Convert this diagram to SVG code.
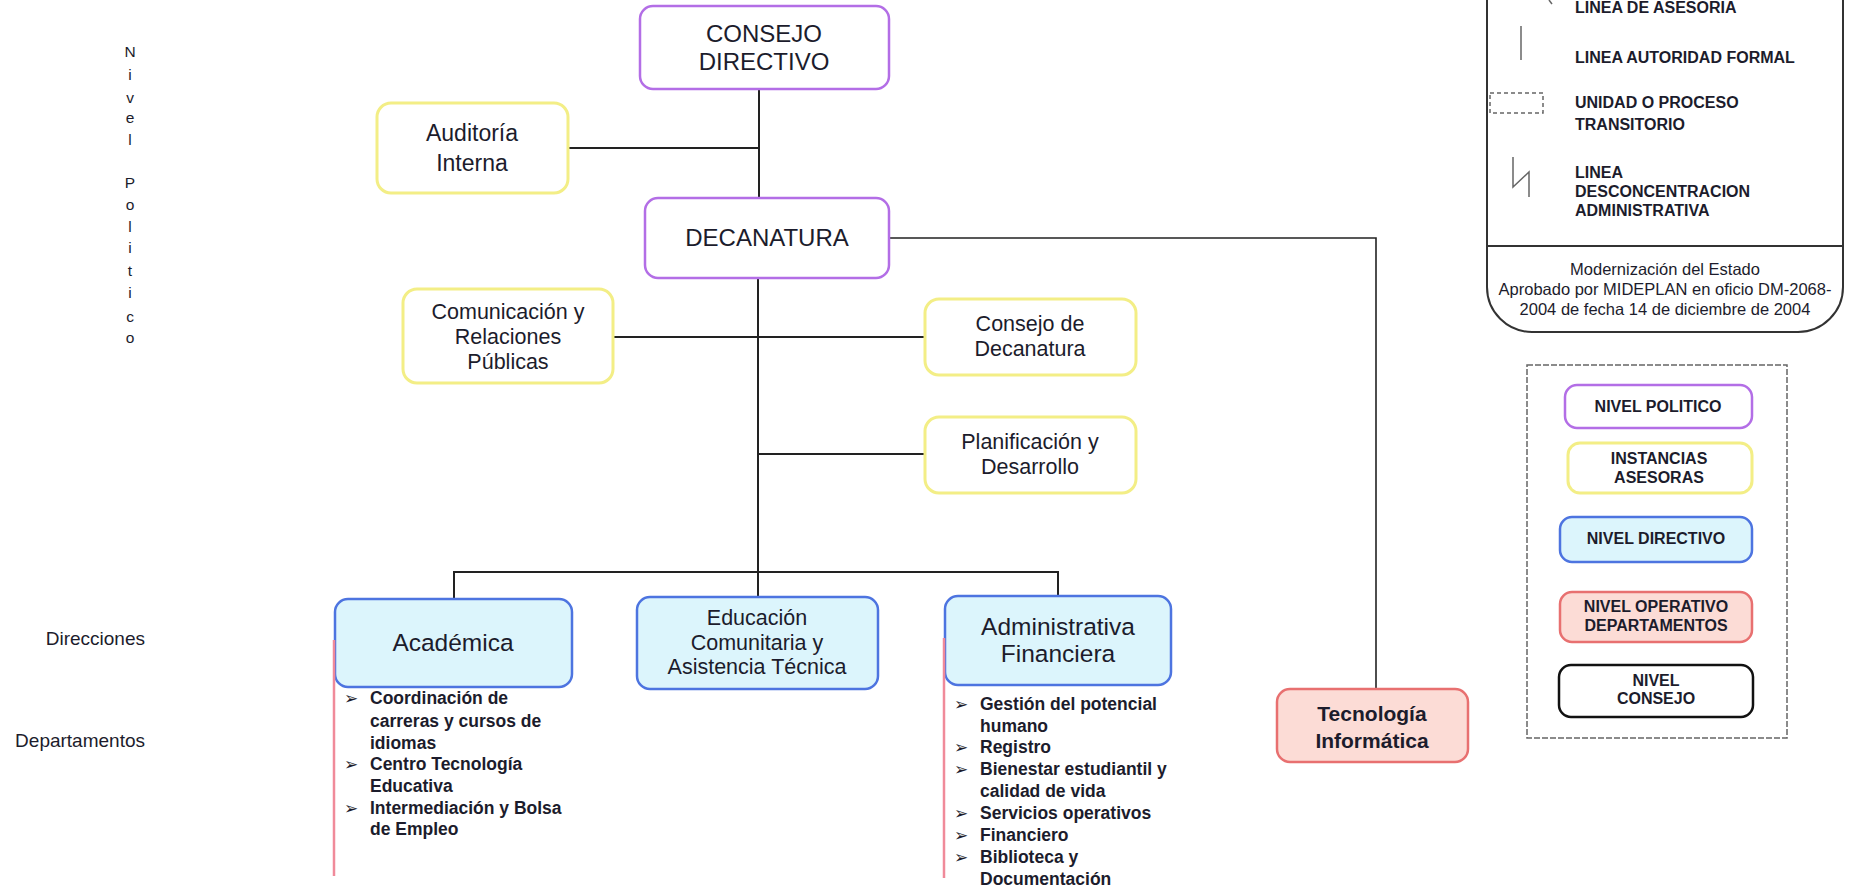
<svg xmlns="http://www.w3.org/2000/svg" width="1850" height="890" viewBox="0 0 1850 890">
<style>
text{font-family:"Liberation Sans",Arial,sans-serif;fill:#1c1c2c}
.c{text-anchor:middle}
.b{font-weight:bold}
.pol{fill:#fff;stroke:#b36ee6;stroke-width:2.5}
.ase{fill:#fff;stroke:#f3ee86;stroke-width:3}
.dir{fill:#dcf5fc;stroke:#4d74e0;stroke-width:2.5}
.ope{fill:#fcdcd6;stroke:#e87070;stroke-width:2.5}
.con{fill:#fff;stroke:#111;stroke-width:2.5}
.ln{stroke:#222;stroke-width:2;fill:none}
.red{stroke:#f08a9a;stroke-width:2.5;fill:none}
.f24{font-size:24px}.f23{font-size:23px}.f21{font-size:21.5px}
.li{font-size:17.5px;font-weight:bold}
.bu{font-family:"DejaVu Sans",sans-serif;font-size:17px}
.lg{font-size:16px;font-weight:bold}
.ft{font-size:16.5px}
.side{font-size:19px}
.vl{font-size:15.5px;text-anchor:middle}
.sym{stroke:#666;stroke-width:1.5;fill:none}
</style>

<g id="labels-left">
<text class="vl" x="130" y="57">N</text>
<text class="vl" x="130" y="80">i</text>
<text class="vl" x="130" y="103">v</text>
<text class="vl" x="130" y="123">e</text>
<text class="vl" x="130" y="145">l</text>
<text class="vl" x="130" y="188">P</text>
<text class="vl" x="130" y="210">o</text>
<text class="vl" x="130" y="232">l</text>
<text class="vl" x="130" y="253">i</text>
<text class="vl" x="130" y="276">t</text>
<text class="vl" x="130" y="298">i</text>
<text class="vl" x="130" y="322">c</text>
<text class="vl" x="130" y="343">o</text>
<text class="side" x="145" y="645" text-anchor="end">Direcciones</text>
<text class="side" x="145" y="747" text-anchor="end">Departamentos</text>
</g>

<g id="connectors">
<line class="ln" x1="759" y1="89" x2="759" y2="198"/>
<line class="ln" x1="568" y1="148" x2="759" y2="148"/>
<line class="ln" x1="758" y1="278" x2="758" y2="597"/>
<line class="ln" x1="613" y1="337" x2="925" y2="337"/>
<line class="ln" x1="758" y1="454" x2="925" y2="454"/>
<polyline class="ln" points="454,598 454,572 1058,572 1058,596"/>
<polyline class="ln" points="889,238 1376,238 1376,689" style="stroke-width:1.6"/>
</g>

<g id="consejo-directivo">
<rect class="pol" x="640" y="6" width="249" height="83" rx="13"/>
<text class="c f24" x="764" y="42">CONSEJO</text>
<text class="c f24" x="764" y="70">DIRECTIVO</text>
</g>

<g id="auditoria">
<rect class="ase" x="377" y="103" width="191" height="90" rx="14"/>
<text class="c f23" x="472" y="141">Auditoría</text>
<text class="c f23" x="472" y="171">Interna</text>
</g>

<g id="decanatura">
<rect class="pol" x="645" y="198" width="244" height="80" rx="13"/>
<text class="c f24" x="767" y="246">DECANATURA</text>
</g>

<g id="comunicacion">
<rect class="ase" x="403" y="289" width="210" height="94" rx="14"/>
<text class="c f21" x="508" y="319">Comunicación y</text>
<text class="c f21" x="508" y="344">Relaciones</text>
<text class="c f21" x="508" y="369">Públicas</text>
</g>

<g id="consejo-decanatura">
<rect class="ase" x="925" y="299" width="211" height="76" rx="14"/>
<text class="c f21" x="1030" y="331">Consejo de</text>
<text class="c f21" x="1030" y="356">Decanatura</text>
</g>

<g id="planificacion">
<rect class="ase" x="925" y="417" width="211" height="76" rx="14"/>
<text class="c f21" x="1030" y="449">Planificación y</text>
<text class="c f21" x="1030" y="474">Desarrollo</text>
</g>

<g id="academica">
<rect class="dir" x="335" y="599" width="237" height="88" rx="13"/>
<line class="red" x1="334" y1="640" x2="334" y2="876"/>
<text class="c" style="font-size:24.5px" x="453" y="651">Académica</text>
<text class="bu" x="344" y="704">➢</text>
<text class="li" x="370" y="704">Coordinación de</text>
<text class="li" x="370" y="727">carreras y cursos de</text>
<text class="li" x="370" y="749">idiomas</text>
<text class="bu" x="344" y="770">➢</text>
<text class="li" x="370" y="770">Centro Tecnología</text>
<text class="li" x="370" y="792">Educativa</text>
<text class="bu" x="344" y="814">➢</text>
<text class="li" x="370" y="814">Intermediación y Bolsa</text>
<text class="li" x="370" y="835">de Empleo</text>
</g>

<g id="educacion">
<rect class="dir" x="637" y="597" width="241" height="92" rx="13"/>
<text class="c f21" x="757" y="625">Educación</text>
<text class="c f21" x="757" y="650">Comunitaria y</text>
<text class="c f21" x="757" y="674">Asistencia Técnica</text>
</g>

<g id="administrativa">
<rect class="dir" x="945" y="596" width="226" height="89" rx="13"/>
<line class="red" x1="944" y1="638" x2="944" y2="878"/>
<text class="c" style="font-size:24.5px" x="1058" y="635">Administrativa</text>
<text class="c" style="font-size:24.5px" x="1058" y="662">Financiera</text>
<text class="bu" x="954" y="710">➢</text>
<text class="li" x="980" y="710">Gestión del potencial</text>
<text class="li" x="980" y="732">humano</text>
<text class="bu" x="954" y="753">➢</text>
<text class="li" x="980" y="753">Registro</text>
<text class="bu" x="954" y="775">➢</text>
<text class="li" x="980" y="775">Bienestar estudiantil y</text>
<text class="li" x="980" y="797">calidad de vida</text>
<text class="bu" x="954" y="819">➢</text>
<text class="li" x="980" y="819">Servicios operativos</text>
<text class="bu" x="954" y="841">➢</text>
<text class="li" x="980" y="841">Financiero</text>
<text class="bu" x="954" y="863">➢</text>
<text class="li" x="980" y="863">Biblioteca y</text>
<text class="li" x="980" y="885">Documentación</text>
</g>

<g id="tecnologia">
<rect class="ope" x="1277" y="689" width="191" height="73" rx="13"/>
<text class="c b" style="font-size:21px" x="1372" y="721">Tecnología</text>
<text class="c b" style="font-size:21px" x="1372" y="748">Informática</text>
</g>

<g id="legend-lines">
<rect x="1487" y="-60" width="356" height="392" rx="45" fill="#fff" stroke="#333" stroke-width="2"/>
<line x1="1487" y1="246" x2="1843" y2="246" stroke="#333" stroke-width="1.8"/>
<line class="sym" x1="1549" y1="0" x2="1552" y2="4"/>
<text class="lg" x="1575" y="13">LINEA DE ASESORIA</text>
<line class="sym" x1="1521" y1="26" x2="1521" y2="60"/>
<text class="lg" x="1575" y="63">LINEA AUTORIDAD FORMAL</text>
<rect class="sym" x="1490" y="93" width="53" height="20" stroke-dasharray="4,3"/>
<text class="lg" x="1575" y="108">UNIDAD O PROCESO</text>
<text class="lg" x="1575" y="130">TRANSITORIO</text>
<polyline class="sym" points="1513,157 1513,187 1529,172 1529,197"/>
<text class="lg" x="1575" y="178">LINEA</text>
<text class="lg" x="1575" y="197">DESCONCENTRACION</text>
<text class="lg" x="1575" y="216">ADMINISTRATIVA</text>
<text class="ft c" x="1665" y="275">Modernización del Estado</text>
<text class="ft c" x="1665" y="295">Aprobado por MIDEPLAN en oficio DM-2068-</text>
<text class="ft c" x="1665" y="315">2004 de fecha 14 de diciembre de 2004</text>
</g>

<g id="legend-levels">
<rect x="1527" y="365" width="260" height="373" fill="#fff" stroke="#666" stroke-width="1.5" stroke-dasharray="6,2"/>
<rect class="pol" x="1565" y="385" width="187" height="43" rx="12"/>
<text class="c b" style="font-size:16px" x="1658" y="412">NIVEL POLITICO</text>
<rect class="ase" x="1568" y="443" width="184" height="50" rx="12"/>
<text class="c b" style="font-size:16px" x="1659" y="464">INSTANCIAS</text>
<text class="c b" style="font-size:16px" x="1659" y="483">ASESORAS</text>
<rect class="dir" x="1560" y="517" width="192" height="45" rx="12"/>
<text class="c b" style="font-size:16px" x="1656" y="544">NIVEL DIRECTIVO</text>
<rect class="ope" x="1560" y="592" width="192" height="50" rx="12"/>
<text class="c b" style="font-size:16px" x="1656" y="612">NIVEL OPERATIVO</text>
<text class="c b" style="font-size:16px" x="1656" y="631">DEPARTAMENTOS</text>
<rect class="con" x="1559" y="665" width="194" height="52" rx="12"/>
<text class="c b" style="font-size:16px" x="1656" y="686">NIVEL</text>
<text class="c b" style="font-size:16px" x="1656" y="704">CONSEJO</text>
</g>
</svg>
